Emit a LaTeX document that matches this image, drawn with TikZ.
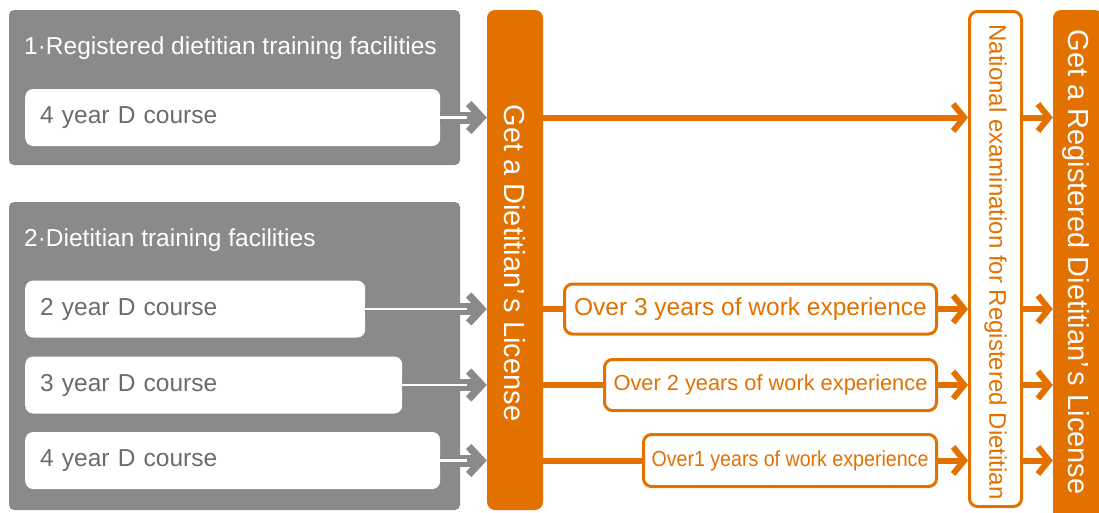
\documentclass[tikz,border=0pt]{standalone}
\usepackage{fontspec}
\setmainfont{Liberation Sans}
\usetikzlibrary{arrows.meta}
\definecolor{dorange}{RGB}{226,113,0}
\definecolor{boxgrey}{RGB}{138,138,138}
\definecolor{textgrey}{RGB}{108,108,108}
\newcommand\coursefont{\fontsize{24.5}{28}\selectfont}
\newcommand\smallfont{\fontsize{21.8}{26}\selectfont}
\newcommand\barfont{\fontsize{29}{32}\selectfont}
\newcommand\examfont{\fontsize{24}{28}\selectfont}

\begin{document}
\begin{tikzpicture}[x=1pt, y=-1pt,
	panel/.style={fill=boxgrey, rounded corners=5pt},
	title/.style={anchor=west, text=white, font=\coursefont, inner sep=0pt},
	course/.style={fill=white, rounded corners=8pt, anchor=west, minimum height=57pt, inner xsep=15pt, text=textgrey, align=left, font=\coursefont},
	work/.style={draw=dorange, line width=3pt, fill=white, rounded corners=8pt, anchor=east, inner xsep=0pt, text=dorange},
	bar/.style={fill=dorange, rounded corners=8pt},
	garrow/.style={draw=boxgrey, line width=12pt, -{Straight Barb[length=13pt, width=28pt, line width=7.5pt]}, postaction={draw=white, line width=2.5pt, -, shorten >=20pt}},
	oline/.style={draw=dorange, line width=6pt},
	oarrow/.style={oline, -{Straight Barb[length=11pt, width=27pt]}}]
	
	\useasboundingbox (0,0) rectangle (1099,512);
	
	% training facilities
	\path[panel] (9,10) rectangle (460,165);
	\path[panel] (9,202) rectangle (460,510);
	\node[title] (t1) at (24,48) {1·Registered dietitian training facilities};
	\node[title] (t2) at (24,240) {2·Dietitian training facilities};
	\node[course, text width=385pt] (c1) at (25,117.5) {4 year D course};
	\node[course, text width=310pt] (c2) at (25,309) {2 year D course};
	\node[course, text width=347pt] (c3) at (25,385) {3 year D course};
	\node[course, text width=385pt] (c4) at (25,460.5) {4 year D course};
	
	% licenses and examination
	\node[bar, minimum width=56pt, minimum height=500pt] (lic) at (515,260) {};
	\node[rotate=-90, text=white, font=\barfont] (lict) at (515,263) {Get a Dietitian’\kern4pt s License};
	\node[draw=dorange, line width=3pt, fill=white, rounded corners=8pt, minimum width=52pt, minimum height=495pt] (exam) at (995.5,259) {};
	\node[rotate=-90, text=dorange, font=\examfont] (examt) at (995.5,262) {National examination for Registered Dietitian};
	\node[bar, minimum width=50pt, minimum height=510pt] (reg) at (1078,265) {};
	\node[rotate=-90, text=white, font=\barfont] (regt) at (1076,262) {Get a Registered Dietitian’\kern4pt s License};
	
	% work experience
	\node[work, minimum width=372pt, minimum height=50pt, font=\coursefont] (w3) at (938,309) {Over 3 years of work experience};
	\node[work, minimum width=332pt, minimum height=51pt, font=\smallfont] (w2) at (938,385) {Over 2 years of work experience};
	\node[work, minimum width=293pt, minimum height=52pt, font=\smallfont] (w1) at (938,460.5) {\scalebox{0.9}[1]{Over1 years of work experience}};
	
	\draw[garrow] (c1.east) -- (c1.east -| lic.west);
	\draw[garrow] (c2.east) -- (c2.east -| lic.west);
	\draw[garrow] (c3.east) -- (c3.east -| lic.west);
	\draw[garrow] (c4.east) -- (c4.east -| lic.west);
	
	\draw[oarrow] (lic.east |- c1) -- (c1 -| exam.west);
	\draw[oline] (lic.east |- w3) -- (w3.west);
	\draw[oline] (lic.east |- w2) -- (w2.west);
	\draw[oline] (lic.east |- w1) -- (w1.west);
	\draw[oarrow] (w3.east) -- (w3 -| exam.west);
	\draw[oarrow] (w2.east) -- (w2 -| exam.west);
	\draw[oarrow] (w1.east) -- (w1 -| exam.west);
	
	\draw[oarrow] (exam.east |- c1) -- (c1 -| reg.west);
	\draw[oarrow] (exam.east |- w3) -- (w3 -| reg.west);
	\draw[oarrow] (exam.east |- w2) -- (w2 -| reg.west);
	\draw[oarrow] (exam.east |- w1) -- (w1 -| reg.west);
\end{tikzpicture}
\end{document}
